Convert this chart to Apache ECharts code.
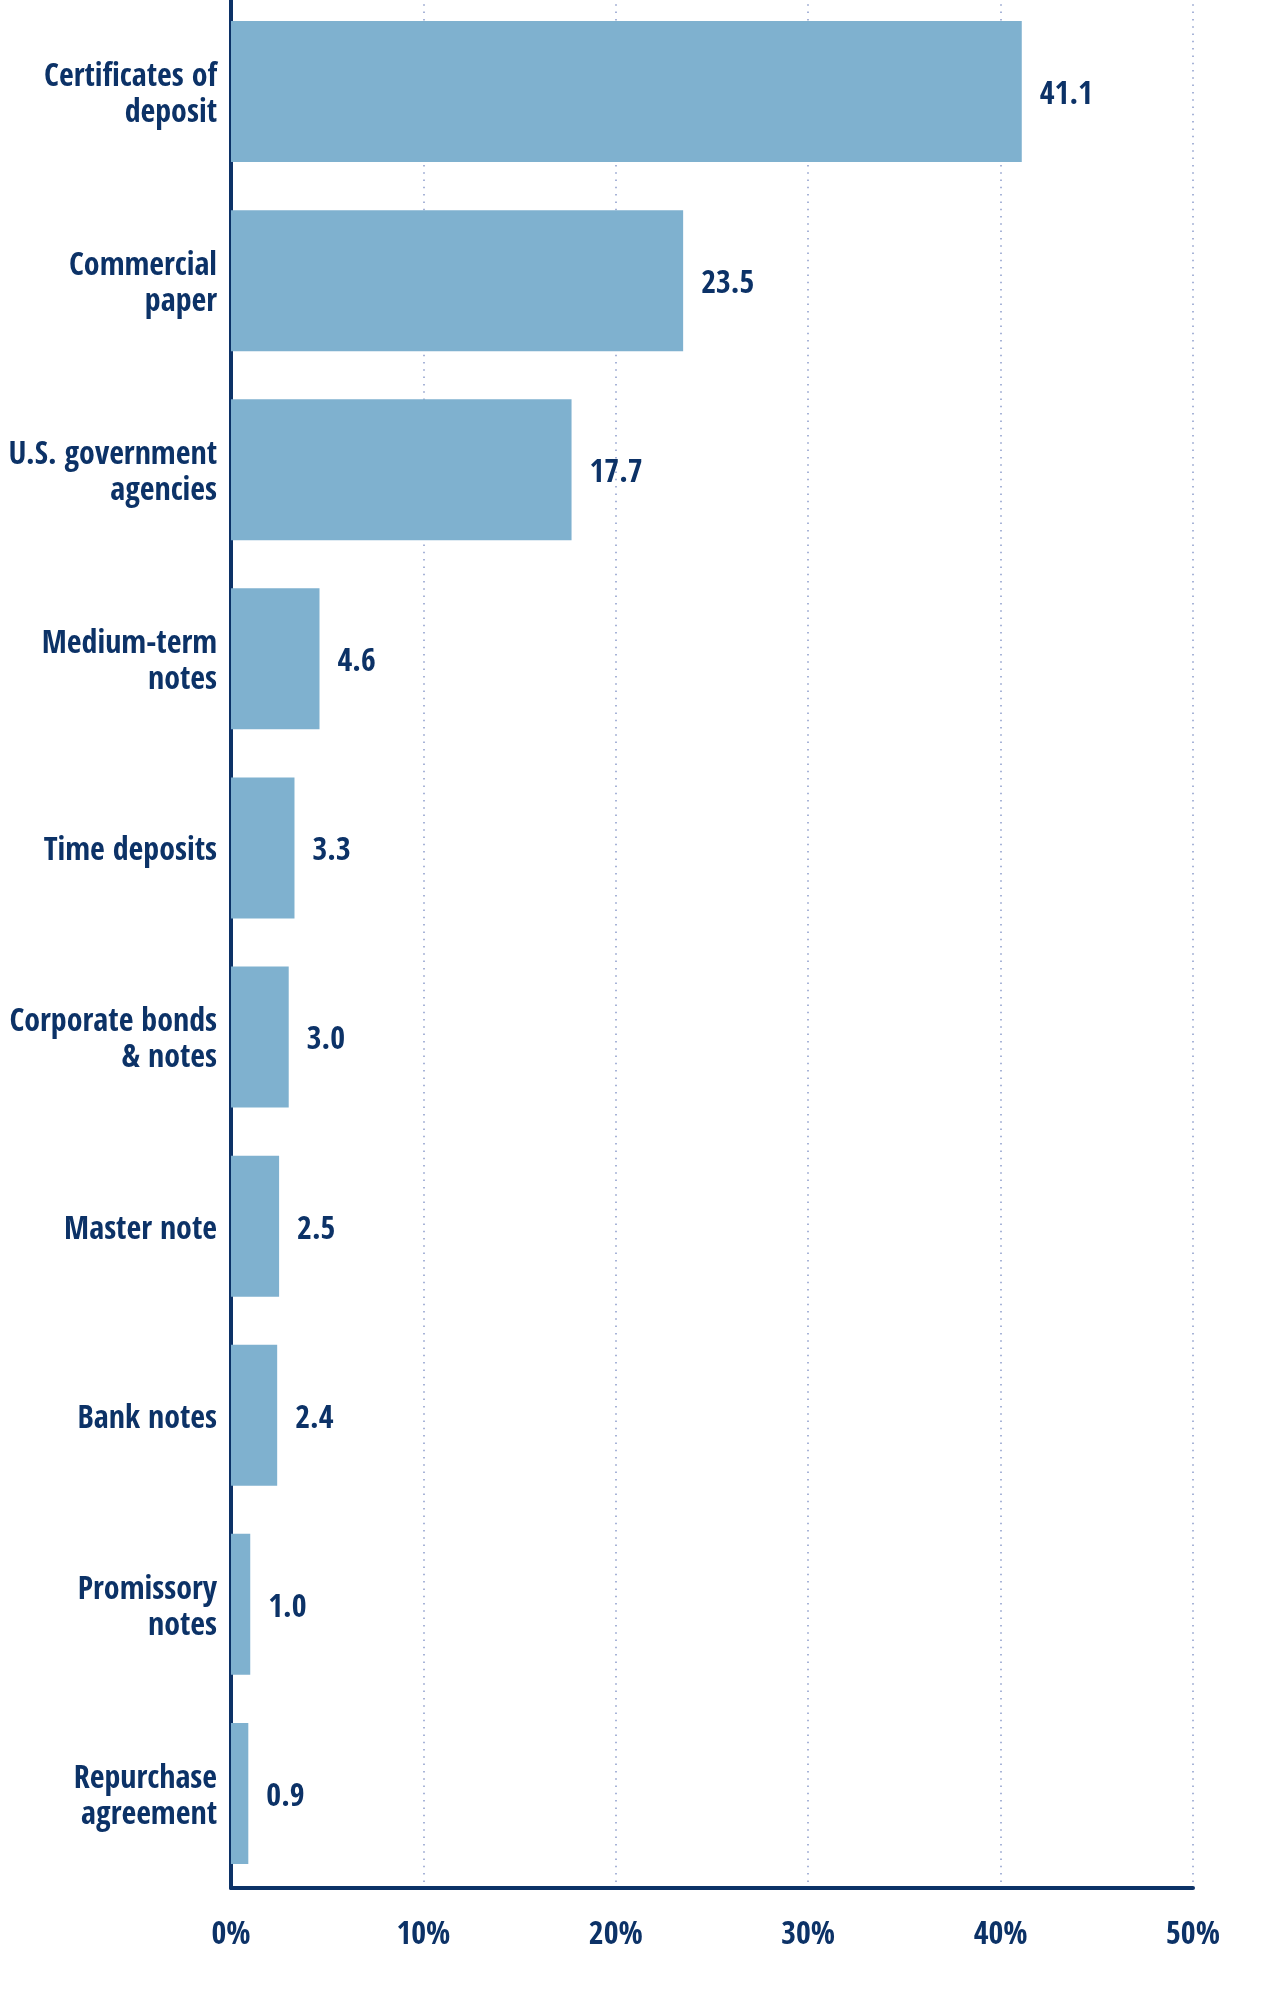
<!DOCTYPE html>
<html>
<head>
<meta charset="utf-8">
<script src="https://cdn.jsdelivr.net/npm/echarts@6/dist/echarts.min.js"></script>
<style>
html,body{margin:0;padding:0;background:#fff;}
#chart{width:1273px;height:1993px;}
</style>
</head>
<body>
<div id="chart"></div>
<script>
const categories = [
  "Certificates of\ndeposit",
  "Commercial\npaper",
  "U.S. government\nagencies",
  "Medium-term\nnotes",
  "Time deposits",
  "Corporate bonds\n& notes",
  "Master note",
  "Bank notes",
  "Promissory\nnotes",
  "Repurchase\nagreement"
];
const values = [41.1, 23.5, 17.7, 4.6, 3.3, 3.0, 2.5, 2.4, 1.0, 0.9];
const xTicks = [0, 10, 20, 30, 40, 50];

const NAVY = '#0c3267';
const FONT = '"Open Sans Condensed", "Roboto Condensed", sans-serif';

const chart = echarts.init(document.getElementById('chart'), null, {renderer: 'canvas'});
chart.setOption({
  animation: false,
  backgroundColor: '#ffffff',
  grid: {left: 231, right: 80, top: -3, bottom: 105, containLabel: false, outerBoundsMode: 'none'},
  xAxis: {
    type: 'value',
    min: xTicks[0],
    max: xTicks[xTicks.length - 1],
    interval: xTicks[1] - xTicks[0],
    axisLine: {show: true, onZero: false, lineStyle: {color: NAVY, width: 4}},
    axisTick: {show: false},
    axisLabel: {
      formatter: v => v + '%',
      color: NAVY, fontFamily: FONT, fontWeight: 'bold', fontSize: 32, margin: 32
    },
    splitLine: {show: true, lineStyle: {color: '#8c9ccb', width: 1.5, type: [1.5, 5.8]}}
  },
  yAxis: {
    type: 'category',
    data: categories,
    inverse: true,
    axisLine: {show: true, lineStyle: {color: NAVY, width: 4}},
    axisTick: {show: false},
    axisLabel: {
      margin: 14, align: 'right',
      formatter: v => '{s| }\n' + v.split('\n').map(s => '{a|' + s + '}').join('\n'),
      rich: {
        s: {fontSize: 1, lineHeight: 8},
        a: {color: NAVY, fontFamily: FONT, fontWeight: 'bold', fontSize: 32,
            lineHeight: 36, align: 'right'}
      }
    },
    splitLine: {show: false}
  },
  series: [{
    type: 'bar',
    data: values,
    barWidth: 141,
    itemStyle: {color: '#7fb1cf'},
    label: {
      show: true, position: 'right', distance: 18, offset: [0, 4],
      formatter: p => p.value.toFixed(1),
      color: NAVY, fontFamily: FONT, fontWeight: 'bold', fontSize: 32
    }
  }]
});
</script>
</body>
</html>
